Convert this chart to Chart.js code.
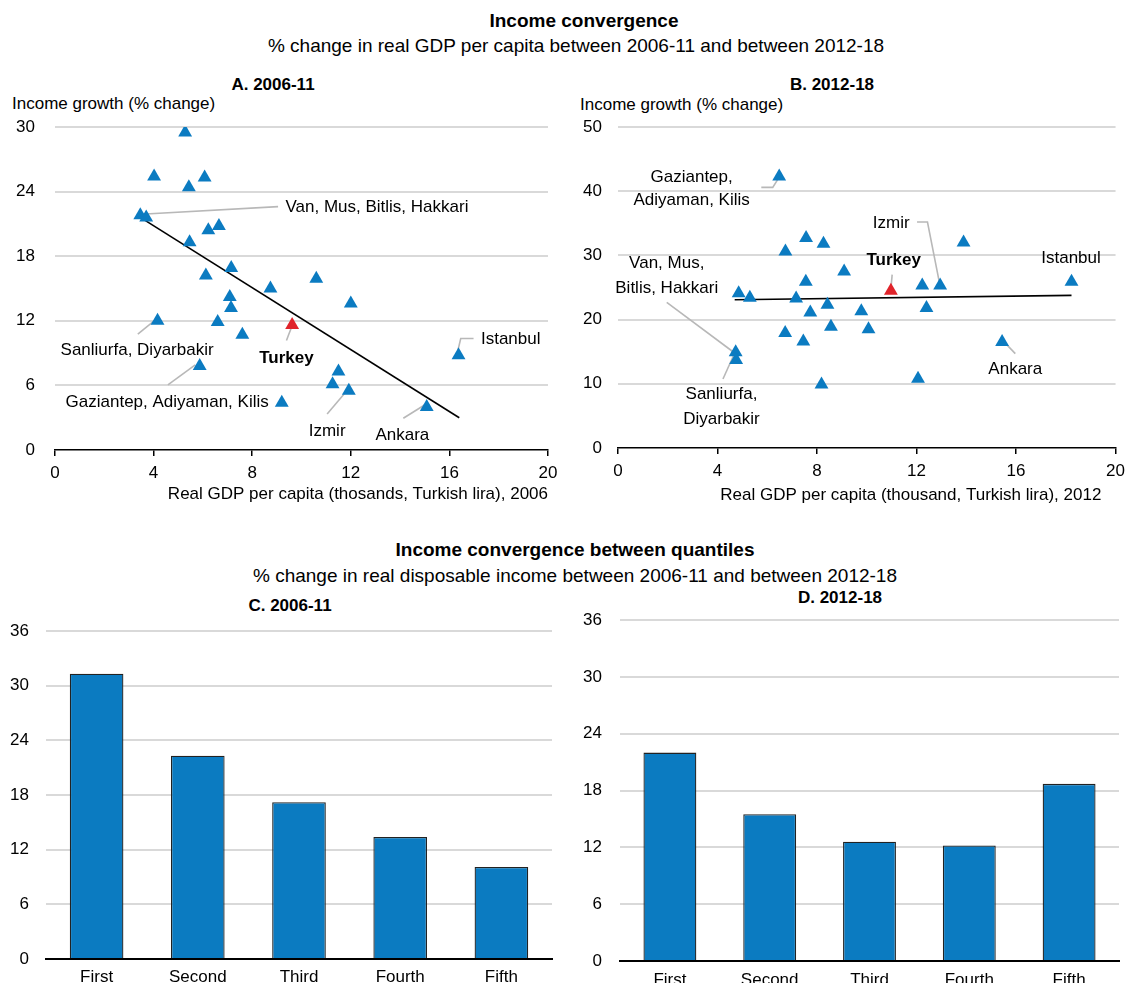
<!DOCTYPE html>
<html>
<head>
<meta charset="utf-8">
<script src="https://cdn.jsdelivr.net/npm/chart.js@4.4.1/dist/chart.umd.min.js"></script>
<style>
  html, body { margin:0; padding:0; background:#fff; }
  body { width:1132px; height:983px; overflow:hidden; position:relative;
         font-family:'Liberation Sans', Arial, sans-serif; color:#000; }
  .t { position:absolute; white-space:nowrap; line-height:1; transform:translate(-50%,-50%); }
  .l { position:absolute; white-space:nowrap; line-height:1; transform:translateY(-50%); }
  .big { font-size:19px; }
  .mid { font-size:17px; }
  .b { font-weight:bold; }
  canvas { position:absolute; }
</style>
</head>
<body>
<div class="t big b" style="left:584px;top:20px;">Income convergence</div>
<div class="t big" style="left:576px;top:45px;">% change in real GDP per capita between 2006-11 and between 2012-18</div>
<div class="t mid b" style="left:273px;top:84px;">A. 2006-11</div>
<div class="t mid b" style="left:832px;top:84px;">B. 2012-18</div>
<div class="l mid" style="left:12px;top:103px;">Income growth (% change)</div>
<div class="l mid" style="left:580px;top:104px;">Income growth (% change)</div>

<div class="t big b" style="left:575px;top:549px;">Income convergence between quantiles</div>
<div class="t big" style="left:575px;top:575px;">% change in real disposable income between 2006-11 and between 2012-18</div>
<div class="t mid b" style="left:290px;top:605px;">C. 2006-11</div>
<div class="t mid b" style="left:840px;top:597px;">D. 2012-18</div>

<canvas id="cA" width="575" height="430" style="left:0px;top:90px;"></canvas>
<canvas id="cB" width="562" height="430" style="left:570px;top:90px;"></canvas>
<canvas id="cC" width="566" height="373" style="left:0px;top:610px;"></canvas>
<canvas id="cD" width="562" height="383" style="left:570px;top:600px;"></canvas>

<script>
// ---------------- DATA ----------------
// Panel A: regions, 2006 real GDP per capita (thousand TRY) vs income growth 2006-11 (%)
const gdp2006      = [5.28, 4.02, 6.07, 5.43, 3.46, 3.70, 6.22, 6.65, 5.46, 7.15, 6.12, 7.09, 7.14, 8.74, 10.6, 12.0, 4.16, 6.60, 7.60, 16.37, 11.5, 11.26, 11.92, 5.87, 9.20, 15.08];
const growth0611   = [29.5, 25.4, 25.3, 24.4, 21.8, 21.6, 20.4, 20.8, 19.3, 16.9, 16.2, 14.2, 13.2, 15.0, 15.9, 13.6, 12.0, 11.9, 10.7, 8.8, 7.3, 6.1, 5.5, 7.8, 4.4, 4.0];
const turkeyGdp2006    = [9.62];
const turkeyGrowth0611 = [11.6];
const fitA_x = [3.46, 16.4];
const fitA_y = [21.6, 3.0];

// Panel B: regions, 2012 real GDP per capita (thousand TRY) vs income growth 2012-18 (%)
const gdp2012      = [6.48, 7.56, 8.26, 6.73, 9.09, 7.55, 4.85, 5.30, 7.16, 8.42, 7.73, 8.56, 6.72, 7.45, 4.73, 4.75, 8.18, 13.89, 12.23, 12.95, 18.23, 9.78, 12.40, 10.07, 15.44, 12.06];
const growth1218   = [42.3, 32.7, 31.8, 30.6, 27.5, 25.9, 24.1, 23.4, 23.3, 22.3, 21.1, 18.9, 17.9, 16.6, 14.9, 13.7, 9.9, 32.0, 25.3, 25.3, 25.9, 21.3, 21.8, 18.5, 16.5, 10.8];
const turkeyGdp2012    = [10.97];
const turkeyGrowth1218 = [24.5];
const fitB_x = [4.69, 18.23];
const fitB_y = [23.1, 23.77];

// Panels C, D: quintiles of disposable income
const quintiles         = ['First', 'Second', 'Third', 'Fourth', 'Fifth'];
const incomeGrowth0611  = [31.3, 22.3, 17.2, 13.4, 10.1];
const incomeGrowth1218  = [22.0, 15.5, 12.6, 12.2, 18.7];

// Tick values
const xTicksGdp   = [0, 4, 8, 12, 16, 20];
const yTicksA     = [0, 6, 12, 18, 24, 30];
const yTicksB     = [0, 10, 20, 30, 40, 50];
const yTicksBars  = [0, 6, 12, 18, 24, 30, 36];

// ---------------- STYLE ----------------
const FONT = "'Liberation Sans', Arial, sans-serif";
const FS = 17;
const BLUE = '#0B7BC1';
const RED = '#E0242B';
const GRID = '#d9d9d9';
const LEADER = '#b8b8b8';
const NONE = 'rgba(0,0,0,0)';

Chart.defaults.font.family = FONT;
Chart.defaults.font.size = FS;
Chart.defaults.color = '#000';

function fixedTicks(vals){ return function(s){ s.ticks = vals.map(v => ({value:v})); }; }
function gridNoZero(ctx){ return (ctx.tick && ctx.tick.value === 0) ? NONE : GRID; }

function annotPlugin(ann){
  return {
    id:'annot',
    beforeDatasetsDraw(chart){
      const {ctx, scales:{x, y}} = chart;
      ctx.save();
      ctx.strokeStyle = LEADER;
      ctx.lineWidth = 1.6;
      (ann.leaders || []).forEach(pts => {
        ctx.beginPath();
        pts.forEach((p, i) => {
          const px = x.getPixelForValue(p[0]), py = y.getPixelForValue(p[1]);
          if (i) ctx.lineTo(px, py); else ctx.moveTo(px, py);
        });
        ctx.stroke();
      });
      ctx.restore();
    },
    afterDatasetsDraw(chart){
      const {ctx, scales:{x, y}} = chart;
      ctx.save();
      ctx.fillStyle = '#000';
      ctx.textBaseline = 'middle';
      (ann.labels || []).forEach(l => {
        ctx.font = (l.bold ? 'bold ' : '') + FS + 'px ' + FONT;
        ctx.textAlign = l.align || 'center';
        const lines = Array.isArray(l.text) ? l.text : [l.text];
        const ys = Array.isArray(l.y) ? l.y : [l.y];
        lines.forEach((txt, i) => {
          ctx.fillText(txt, x.getPixelForValue(l.x), y.getPixelForValue(ys[i]));
        });
      });
      ctx.restore();
    }
  };
}

function scatterChart(id, cfg){
  return new Chart(document.getElementById(id), {
    type:'scatter',
    data:{ datasets:[
      { type:'line', data: cfg.fitX.map((v,i)=>({x:v, y:cfg.fitY[i]})), borderColor:'#000', borderWidth:1.6,
        pointRadius:0, fill:false, order:3 },
      { data: cfg.xs.map((v,i)=>({x:v, y:cfg.ys[i]})), pointStyle:'triangle', pointRadius:8,
        backgroundColor:BLUE, borderColor:BLUE, borderWidth:0, order:2 },
      { data: cfg.tx.map((v,i)=>({x:v, y:cfg.ty[i]})), pointStyle:'triangle', pointRadius:8,
        backgroundColor:RED, borderColor:RED, borderWidth:0, order:1 }
    ]},
    options:{
      responsive:false, animation:false, events:[],
      layout:{ padding:{ top:cfg.padTop, right:cfg.padRight, left:0, bottom:0 } },
      plugins:{ legend:{display:false}, tooltip:{enabled:false} },
      scales:{
        x:{ type:'linear', min:0, max:20, afterBuildTicks: fixedTicks(xTicksGdp),
            grid:{ drawOnChartArea:false, drawTicks:true, tickLength:6, color:'#000', lineWidth:1.5 },
            border:{ display:true, color:'#000', width:1.5 },
            ticks:{ padding:7, maxRotation:0, autoSkip:false },
            title:{ display:true, text:cfg.xTitle, align:'end', padding:{top:0, bottom:cfg.titlePadB} },
            afterFit(s){ s.height = cfg.xH; } },
        y:{ type:'linear', min:0, max:cfg.yMax, afterBuildTicks: fixedTicks(cfg.yTicks),
            grid:{ color:gridNoZero, lineWidth:2, drawTicks:true, tickLength:cfg.yGap, tickColor:NONE },
            border:{ display:false },
            ticks:{ padding:0, autoSkip:false },
            afterFit(s){ s.width = cfg.yW; } }
      }
    },
    plugins:[ annotPlugin(cfg.ann) ]
  });
}

scatterChart('cA', {
  xs:gdp2006, ys:growth0611, tx:turkeyGdp2006, ty:turkeyGrowth0611, fitX:fitA_x, fitY:fitA_y,
  yMax:30, yTicks:yTicksA, padTop:37, padRight:27, xH:70, yW:55, yGap:20, titlePadB:15,
  xTitle:'Real GDP per capita (thosands, Turkish lira), 2006',
  ann:{
    labels:[
      {text:'Van, Mus, Bitlis, Hakkari', x:9.35, y:22.5, align:'left'},
      {text:'Sanliurfa, Diyarbakir', x:3.33, y:9.3},
      {text:'Gaziantep, Adiyaman, Kilis', x:4.55, y:4.4},
      {text:'Turkey', x:9.39, y:8.56, bold:true},
      {text:'Istanbul', x:17.28, y:10.3, align:'left'},
      {text:'Izmir', x:11.04, y:1.7},
      {text:'Ankara', x:14.09, y:1.4}
    ],
    leaders:[
      [[3.5,21.9],[9.05,22.6]],
      [[3.36,10.76],[4.07,12.09]],
      [[4.58,6.05],[5.69,7.9]],
      [[9.39,10.17],[9.66,11.8]],
      [[16.98,10.35],[16.46,10.35],[16.35,9.3]],
      [[11.04,3.35],[11.9,5.67]],
      [[14.13,2.95],[15.04,4.25]]
    ]
  }
});

scatterChart('cB', {
  xs:gdp2012, ys:growth1218, tx:turkeyGdp2012, ty:turkeyGrowth1218, fitX:fitB_x, fitY:fitB_y,
  yMax:50, yTicks:yTicksB, padTop:37, padRight:12, xH:72, yW:48, yGap:16, titlePadB:14,
  xTitle:'Real GDP per capita (thousand, Turkish lira), 2012\u00a0\u00a0\u00a0',
  ann:{
    labels:[
      {text:['Gaziantep,','Adiyaman, Kilis'], x:2.96, y:[42.2,38.6]},
      {text:['Van, Mus,','Bitlis, Hakkari'], x:1.96, y:[28.7,24.9]},
      {text:['Sanliurfa,','Diyarbakir'], x:4.16, y:[8.3,4.4]},
      {text:'Izmir', x:10.98, y:35.05},
      {text:'Turkey', x:11.08, y:29.2, bold:true},
      {text:'Istanbul', x:18.21, y:29.6},
      {text:'Ankara', x:15.97, y:12.2}
    ],
    leaders:[
      [[5.76,40.6],[6.22,40.6],[6.48,42.2]],
      [[1.96,22.7],[4.69,14.8]],
      [[4.22,10.75],[4.69,14.8]],
      [[12.02,35.2],[12.44,35.2],[12.91,25.95]],
      [[11.02,27.0],[10.98,25.2]],
      [[15.97,14.7],[15.5,16.6]]
    ]
  }
});

function barChart(id, values, cfg){
  return new Chart(document.getElementById(id), {
    type:'bar',
    data:{ labels:quintiles, datasets:[{ data:values, backgroundColor:BLUE, borderColor:'#222',
      borderWidth:1.3, barPercentage:0.53, categoryPercentage:1.0 }] },
    options:{
      responsive:false, animation:false, events:[],
      layout:{ padding:{ top:cfg.padTop, right:cfg.padRight, left:0, bottom:0 } },
      plugins:{ legend:{display:false}, tooltip:{enabled:false} },
      scales:{
        x:{ grid:{ display:false }, border:{ display:true, color:'#000', width:2 },
            ticks:{ padding:cfg.xPad, maxRotation:0, autoSkip:false },
            afterFit(s){ s.height = cfg.xH; } },
        y:{ min:0, max:36, afterBuildTicks: fixedTicks(yTicksBars),
            grid:{ color:gridNoZero, lineWidth:2, drawTicks:true, tickLength:cfg.yGap, tickColor:NONE },
            border:{ display:false },
            ticks:{ padding:0, autoSkip:false },
            afterFit(s){ s.width = cfg.yW; } }
      }
    }
  });
}

barChart('cC', incomeGrowth0611, { padTop:21, padRight:14, xH:24, yW:46, yGap:17, xPad:0 });
barChart('cD', incomeGrowth1218, { padTop:20, padRight:13, xH:22, yW:50, yGap:18, xPad:1 });
</script>
</body>
</html>
